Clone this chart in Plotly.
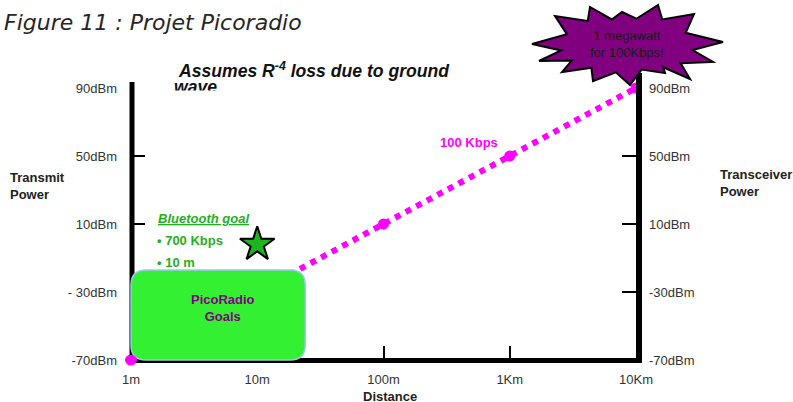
import math
import plotly.graph_objects as go

# ---------------- data ----------------
distance_m = [1, 10, 100, 1000, 10000]
power_dbm = [-70, -30, 10, 50, 90]
x_tickvals = [1, 10, 100, 1000, 10000]
x_ticktext = ["1m", "10m", "100m", "1Km", "10Km"]
y_tickvals = [-70, -30, 10, 50, 90]
y_ticktext_left = ["-70dBm", "- 30dBm", "10dBm", "50dBm", "90dBm"]
y_ticktext_right = ["-70dBm", "-30dBm", "10dBm", "50dBm", "90dBm"]
bluetooth_distance = [10]
bluetooth_power = [-2]
picoradio_distance = [1, 24]
picoradio_power = [-70, -17]

# ---------------- geometry ----------------
W, H = 793, 402
L, R, T, B = 131, 636, 88, 360
XMIN, XMAX = 0, 4          # log10 range
YMIN, YMAX = -70, 90

def px(x):
    return (x - L) / (R - L)

def py(y):
    return (B - y) / (B - T)

def dx(d):  # data distance -> paper x
    return (math.log10(d) - XMIN) / (XMAX - XMIN)

def dy(p):  # data power -> paper y
    return (p - YMIN) / (YMAX - YMIN)

FONT = "Liberation Sans, Arial, sans-serif"
MAGENTA = "#FF00FF"
GREEN_TXT = "#1FAF1F"
PURPLE = "#800080"

fig = go.Figure()

# magenta extrapolation line
fig.add_trace(go.Scatter(
    x=distance_m, y=power_dbm, mode="lines+markers",
    line=dict(color=MAGENTA, width=6, dash="dot"),
    marker=dict(color=MAGENTA, size=11),
    showlegend=False, hoverinfo="skip", cliponaxis=False))

# bluetooth star
fig.add_trace(go.Scatter(
    x=bluetooth_distance, y=bluetooth_power, mode="markers",
    marker=dict(symbol="star", size=26, color="#1EB41E",
                line=dict(color="black", width=2)),
    showlegend=False, hoverinfo="skip", cliponaxis=False))

# "wave" second line of the note (partly masked below)
fig.add_trace(go.Scatter(
    x=[10 ** ((174 - L) / (R - L) * 4)], y=[YMAX - (89 - T) * (YMAX - YMIN) / (B - T)],
    mode="text", text=["<b><i>wave</i></b>"], textposition="middle right",
    textfont=dict(family=FONT, size=17.6, color="#111"),
    showlegend=False, hoverinfo="skip", cliponaxis=False))

# invisible trace for right axis
fig.add_trace(go.Scatter(
    x=[1], y=[YMIN], yaxis="y2", mode="markers",
    marker=dict(opacity=0), showlegend=False, hoverinfo="skip"))

shapes = []
# axis lines
shapes.append(dict(type="line", xref="paper", yref="paper", layer="above",
                   x0=px(132), x1=px(132), y0=py(82), y1=py(362),
                   line=dict(color="black", width=5)))
shapes.append(dict(type="line", xref="paper", yref="paper", layer="above",
                   x0=px(639), x1=px(639), y0=py(73), y1=py(363),
                   line=dict(color="black", width=6)))
shapes.append(dict(type="line", xref="paper", yref="paper", layer="above",
                   x0=px(129), x1=px(642), y0=py(360.5), y1=py(360.5),
                   line=dict(color="black", width=5)))

# PicoRadio goals rounded box
bx0, bx1 = dx(picoradio_distance[0]), dx(picoradio_distance[1])
by0, by1 = dy(picoradio_power[0]), dy(picoradio_power[1])
rx = 15 / (R - L)
ry = 15 / (B - T)
box_path = (
    f"M {bx0+rx},{by1} L {bx1-rx},{by1} Q {bx1},{by1} {bx1},{by1-ry} "
    f"L {bx1},{by0+ry} Q {bx1},{by0} {bx1-rx},{by0} "
    f"L {bx0+rx},{by0} Q {bx0},{by0} {bx0},{by0+ry} "
    f"L {bx0},{by1-ry} Q {bx0},{by1} {bx0+rx},{by1} Z")
shapes.append(dict(type="path", xref="paper", yref="paper", layer="above",
                   path=box_path, fillcolor="#33F033",
                   line=dict(color="#9CC8F0", width=1.5)))

# 1m dot on top of the box corner
shapes.append(dict(type="circle", xref="paper", yref="paper", layer="above",
                   xsizemode="pixel", ysizemode="pixel",
                   xanchor=dx(distance_m[0]), yanchor=dy(power_dbm[0]),
                   x0=-6, x1=6, y0=-5, y1=5,
                   fillcolor=MAGENTA, line=dict(width=0)))

# starburst callout
cx, cy = 627, 45
outer = [(532, 44), (555, 16), (590, 7), (622, 12), (658, 5), (694, 14),
         (723, 42), (713, 62), (690, 79), (665, 73), (630, 85), (593, 81),
         (562, 72), (539, 61)]
pts = []
n = len(outer)
for i in range(n):
    p = outer[i]
    q = outer[(i + 1) % n]
    pts.append(p)
    mx, my = (p[0] + q[0]) / 2, (p[1] + q[1]) / 2
    k = 0.72
    pts.append((cx + k * (mx - cx), cy + k * (my - cy)))
star_path = "M " + " L ".join(f"{px(a)},{py(b)}" for a, b in pts) + " Z"
shapes.append(dict(type="path", xref="paper", yref="paper", layer="above",
                   path=star_path, fillcolor=PURPLE,
                   line=dict(color="black", width=2)))

# mask bottom half of "wave"
shapes.append(dict(type="rect", xref="paper", yref="paper", layer="above",
                   x0=px(170), x1=px(240), y0=py(101), y1=py(90.5),
                   fillcolor="white", line=dict(width=0)))

annotations = []

def ann(text, x, y, size=13, color="#222", xanchor="left", family=FONT, align="left"):
    annotations.append(dict(text=text, x=px(x), y=py(y), xref="paper", yref="paper",
                            xanchor=xanchor, yanchor="middle", showarrow=False,
                            align=align, font=dict(family=family, size=size, color=color)))

ann("<i>Figure 11 : Projet Picoradio</i>", 2, 22, size=22, color="#262626",
    family="DejaVu Sans, Verdana, sans-serif")
ann("<b><i>Assumes R<sup>-4</sup> loss due to ground</i></b>", 176, 70, size=17.6, color="#111")
ann("<b>100 Kbps</b>", 469, 142, size=13, color=MAGENTA, xanchor="center")
ann("<b>Transmit<br>Power</b>", 8, 186, size=13, color="#222")
ann("<b>Transceiver<br>Power</b>", 718, 183, size=13, color="#222")
ann("<b>Distance</b>", 390, 396, size=13, color="#222", xanchor="center")
ann("<b><i><u>Bluetooth goal</u></i></b>", 156, 218, size=13, color=GREEN_TXT)
ann("<b>• 700 Kbps</b>", 155, 240, size=13, color=GREEN_TXT)
ann("<b>• 10 m</b>", 155, 262, size=13, color=GREEN_TXT)
ann("<b>PicoRadio<br>Goals</b>", 223, 308, size=13, color=PURPLE, xanchor="center", align="center")
ann("1 megawatt<br>for 100Kbps!", 627, 44, size=13, color="#1a1a1a", xanchor="center", align="center")

tickfont = dict(family=FONT, size=13, color="#333")

fig.update_layout(
    width=W, height=H,
    margin=dict(l=L, r=W - R, t=T, b=H - B, pad=0),
    paper_bgcolor="white", plot_bgcolor="white",
    showlegend=False,
    xaxis=dict(type="log", range=[XMIN, XMAX], tickvals=x_tickvals, ticktext=x_ticktext,
               ticks="inside", ticklen=14, tickwidth=2, tickcolor="black",
               showgrid=False, zeroline=False, showline=False,
               tickfont=tickfont, ticklabelstandoff=10),
    yaxis=dict(range=[YMIN, YMAX], tickvals=y_tickvals, ticktext=y_ticktext_left,
               ticks="inside", ticklen=14, tickwidth=2, tickcolor="black",
               showgrid=False, zeroline=False, showline=False,
               tickfont=tickfont, ticklabelstandoff=13),
    yaxis2=dict(range=[YMIN, YMAX], tickvals=y_tickvals, ticktext=y_ticktext_right,
                overlaying="y", side="right",
                ticks="inside", ticklen=14, tickwidth=2, tickcolor="black",
                showgrid=False, zeroline=False, showline=False,
                tickfont=tickfont, ticklabelstandoff=12),
    shapes=shapes,
    annotations=annotations,
)

fig.write_html("out.html", config={"displayModeBar": False},
               post_script="document.body.style.margin='0';")
